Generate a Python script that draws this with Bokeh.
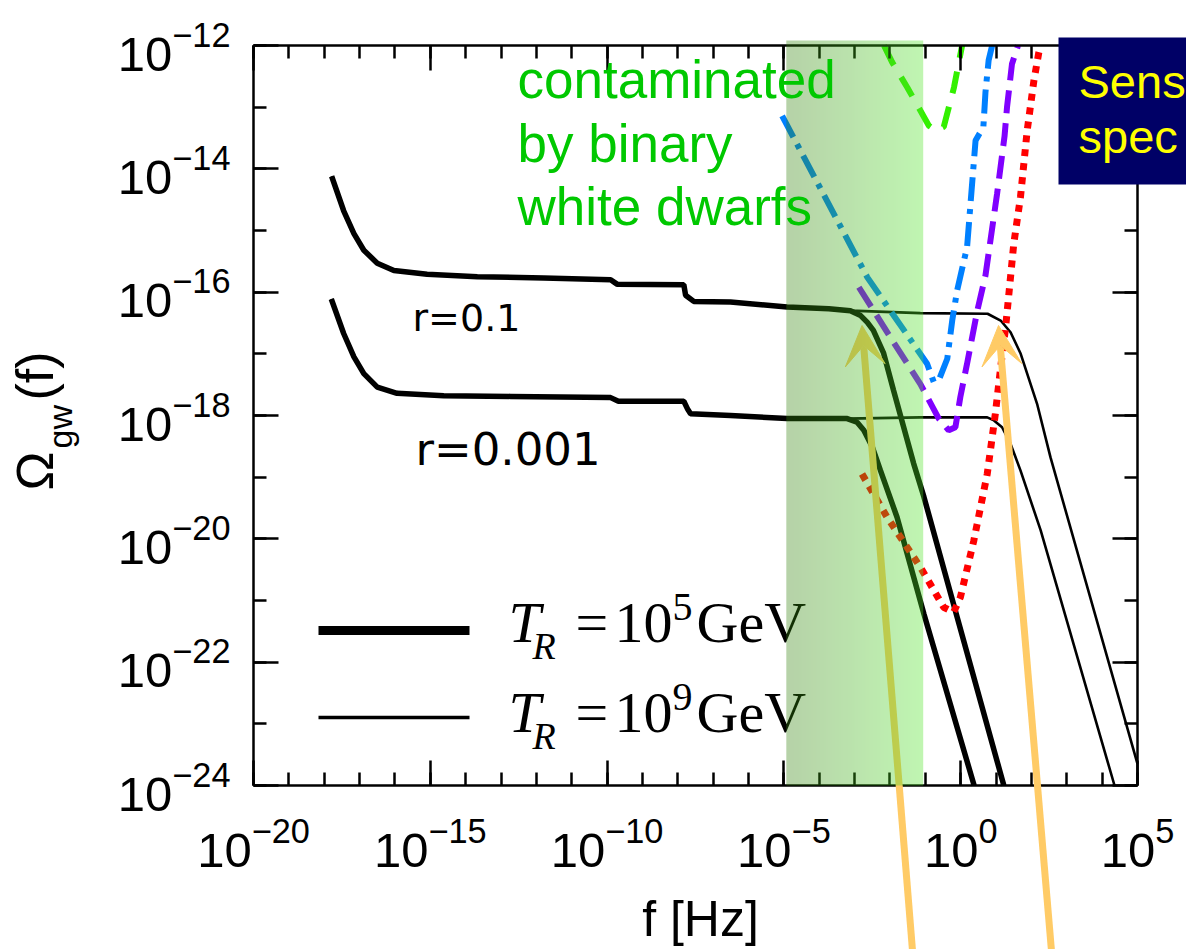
import numpy as np
from bokeh.plotting import figure
from bokeh.models import (Range1d, LogAxis, FixedTicker, Label, Arrow, VeeHead,
                          BoxAnnotation)
from bokeh.embed import file_html
from bokeh.resources import INLINE

# ---------------------------------------------------------------------------
# Gravitational-wave background spectra, log10(f / Hz) vs log10(Omega_gw)
# Low-frequency part is shared by both reheating temperatures.
# ---------------------------------------------------------------------------
common_r1_logf = [-17.79, -17.45, -17.16, -16.88, -16.50, -16.03, -15.09, -13.67,
                  -11.79, -9.90, -9.72, -7.83, -7.78, -7.55, -6.51, -4.91, -3.73, -3.12]
common_r1_logom = [-14.12, -14.68, -15.05, -15.32, -15.53, -15.65, -15.71, -15.75,
                   -15.77, -15.80, -15.87, -15.88, -16.05, -16.15, -16.16, -16.24, -16.27, -16.30]

common_r3_logf = [-17.80, -17.45, -17.16, -16.88, -16.50, -15.94, -14.62, -12.73,
                  -9.90, -9.68, -7.83, -7.72, -7.64, -6.51, -4.91, -3.21]
common_r3_logom = [-16.11, -16.67, -17.05, -17.32, -17.54, -17.64, -17.68, -17.69,
                   -17.71, -17.77, -17.77, -17.90, -17.97, -18.00, -18.05, -18.05]

# T_R = 1e5 GeV branch (thick)
tr5_r1_logf = [-2.83, -2.64, -2.47, -2.18, -1.90, -1.33, -1.04, -0.10, 1.22]
tr5_r1_logom = [-16.38, -16.49, -16.62, -16.99, -17.59, -18.78, -19.32, -21.27, -24.0]
tr5_r3_logf = [-2.93, -2.74, -2.50, -2.27, -1.80, -1.04, 0.38]
tr5_r3_logom = [-18.11, -18.24, -18.51, -18.89, -19.65, -21.22, -24.0]

# T_R = 1e9 GeV branch (thin)
tr9_r1_logf = [-1.14, 0.76, 1.13, 1.41, 1.69, 2.16, 2.54, 5.0]
tr9_r1_logom = [-16.34, -16.35, -16.46, -16.65, -16.99, -17.81, -18.68, -23.65]
tr9_r3_logf = [-1.14, 0.75, 0.94, 1.17, 1.41, 1.69, 2.26, 4.35]
tr9_r3_logom = [-18.03, -18.03, -18.08, -18.19, -18.46, -18.89, -19.86, -24.0]

# Detector sensitivity curves
green_logf = [-2.17, -1.94, -1.51, -0.90, -0.70, -0.48, -0.19, 0.04]
green_logom = [-12.0, -12.27, -12.68, -13.30, -13.38, -13.32, -12.68, -12.0]

blue_logf = [-5.05, -2.64, -0.95, -0.76, -0.60, -0.38, -0.24, -0.10, 0.18, 0.33,
             0.42, 0.53, 0.64, 0.67, 0.70, 0.79, 0.89]
blue_logom = [-13.14, -15.76, -17.16, -17.46, -17.40, -17.08, -16.46, -15.97, -15.27, -14.19,
              -13.54, -13.43, -13.33, -13.05, -12.76, -12.24, -12.0]

purple_logf = [-2.88, -1.99, -1.14, -0.62, -0.34, -0.15, -0.01, 0.18, 0.47, 0.70,
               1.03, 1.24, 1.31, 1.45, 1.62]
purple_logom = [-15.92, -16.73, -17.49, -18.05, -18.24, -18.19, -17.70, -17.16, -16.30, -15.73,
                -14.40, -13.47, -13.00, -12.30, -12.0]

red_logf = [-2.79, -2.08, -1.14, -0.48, -0.20, -0.01, 0.37, 0.75, 0.98, 1.13, 1.27,
            1.40, 1.50, 1.69, 1.88, 2.07, 2.21, 2.26]
red_logom = [-18.95, -19.65, -20.46, -21.11, -21.19, -20.95, -20.03, -18.95, -17.97, -17.22,
             -16.57, -15.81, -15.22, -14.46, -13.38, -12.57, -12.11, -12.0]

# White-dwarf confusion band, Hz
band_f = [1.17e-5, 8.7e-2]

# Arrows marking the reheating frequencies (tip), drawn up from below the axis
arrow_tip_logf = [-2.79, 1.07]
arrow_tail_logf = [-1.36, 2.57]
arrow_tip_logom = -16.54
arrow_tail_logom = -26.7

# Axis ticks
x_major = [1e-20, 1e-15, 1e-10, 1e-5, 1e0, 1e5]
x_minor = [10.0 ** k for k in range(-20, 6)]
y_major = [10.0 ** k for k in range(-24, -11, 2)]
y_minor = [10.0 ** k for k in range(-24, -11)]

# ---------------------------------------------------------------------------
W, H = 1186, 949
# plot box on the canvas (pixels) and the decades it spans
FL, FR, FT, FB = 253, 1137, 45, 785
XLO, XHI, YLO, YHI = -20, 5, -24, -12
# Label anchors sit this fraction of the font size above the drawn baseline
BASE_SHIFT = 0.355


def fx(px):
    """canvas pixel column -> data x"""
    return 10 ** (XLO + (px - FL) * (XHI - XLO) / (FR - FL))


def fy(py):
    """canvas pixel row -> data y"""
    return 10 ** (YHI - (py - FT) * (YHI - YLO) / (FB - FT))


def pw(a):
    return [10.0 ** v for v in a]


# the frame fills the whole canvas; the axes sit on the plot box edges
p = figure(width=W, height=H, x_axis_type="log", y_axis_type="log",
           x_range=Range1d(fx(0), fx(W)), y_range=Range1d(fy(H), fy(0)),
           output_backend="svg", toolbar_location=None, min_border=0)
p.outline_line_color = None
p.xgrid.visible = False
p.ygrid.visible = False
p.background_fill_color = "white"
p.border_fill_color = "white"

xt = FixedTicker(ticks=x_major, minor_ticks=x_minor)
yt = FixedTicker(ticks=y_major, minor_ticks=y_minor)
x_bounds = (10.0 ** XLO, 10.0 ** XHI)
y_bounds = (10.0 ** YLO, 10.0 ** YHI)

bottom_ax = p.below[0]
left_ax = p.left[0]
bottom_ax.ticker = xt
left_ax.ticker = yt
bottom_ax.fixed_location = 10.0 ** YLO
bottom_ax.bounds = x_bounds
left_ax.fixed_location = 10.0 ** XLO
left_ax.bounds = y_bounds

top_ax = LogAxis(ticker=xt, fixed_location=10.0 ** YHI, bounds=x_bounds,
                 major_label_text_color=None, major_label_text_font_size="8px")
right_ax = LogAxis(ticker=yt, fixed_location=10.0 ** XHI, bounds=y_bounds,
                   major_label_text_color=None, major_label_text_font_size="8px")
p.add_layout(top_ax, "above")
p.add_layout(right_ax, "right")

for ax in (bottom_ax, left_ax, top_ax, right_ax):
    ax.axis_line_width = 2.5
    ax.axis_line_color = "black"
    ax.major_tick_line_width = 2.5
    ax.minor_tick_line_width = 2.5
    ax.major_tick_line_color = "black"
    ax.minor_tick_line_color = "black"
    ax.major_tick_in = 25
    ax.major_tick_out = 0
    ax.minor_tick_in = 13
    ax.minor_tick_out = 0

for ax in (bottom_ax, left_ax):
    ax.major_label_text_font = "Liberation Sans"
    ax.major_label_text_font_size = "49px"
    ax.major_label_text_color = "black"
bottom_ax.major_label_standoff = 31
left_ax.major_label_standoff = 23

# --- spectra -----------------------------------------------------------------
p.line(pw(common_r1_logf + tr9_r1_logf), pw(common_r1_logom + tr9_r1_logom),
       line_color="black", line_width=2.6)
p.line(pw(common_r3_logf + tr9_r3_logf), pw(common_r3_logom + tr9_r3_logom),
       line_color="black", line_width=2.6)
p.line(pw(common_r1_logf + tr5_r1_logf), pw(common_r1_logom + tr5_r1_logom),
       line_color="black", line_width=5.5)
p.line(pw(common_r3_logf + tr5_r3_logf), pw(common_r3_logom + tr5_r3_logom),
       line_color="black", line_width=5.5)

# --- sensitivities -----------------------------------------------------------
p.line(pw(green_logf), pw(green_logom), line_color="#33f000", line_width=6,
       line_dash="22 14")
p.line(pw(blue_logf), pw(blue_logom), line_color="#0080ff", line_width=6,
       line_dash="24 8 5 8")
p.line(pw(purple_logf), pw(purple_logom), line_color="#8000ff", line_width=6,
       line_dash="23 10")
p.line(pw(red_logf), pw(red_logom), line_color="#ff0000", line_width=7,
       line_dash="7 7")

# --- legend keys -------------------------------------------------------------
p.segment(x0=[fx(318)], y0=[fy(630)], x1=[fx(469)], y1=[fy(630)],
          line_color="black", line_width=9)
p.segment(x0=[fx(318)], y0=[fy(717)], x1=[fx(469)], y1=[fy(717)],
          line_color="black", line_width=3.5)

# --- arrows ------------------------------------------------------------------
for tip, tail in zip(arrow_tip_logf, arrow_tail_logf):
    p.add_layout(Arrow(end=VeeHead(size=40, fill_color="#ffcb66", line_color="#ffcb66"),
                       x_start=10 ** tail, y_start=10 ** arrow_tail_logom,
                       x_end=10 ** tip, y_end=10 ** arrow_tip_logom,
                       line_color="#ffcb66", line_width=7))

# --- translucent band with a left-to-right shade -----------------------------
N = 140
t = np.linspace(0, 1, N)
c_left = np.array([52, 130, 13])
c_right = np.array([80, 230, 41])
img = np.zeros((1, N), dtype=np.uint32)
view = img.view(dtype=np.uint8).reshape((1, N, 4))
for i in range(N):
    c = c_left + (c_right - c_left) * t[i]
    view[0, i, 0] = int(c[0])
    view[0, i, 1] = int(c[1])
    view[0, i, 2] = int(c[2])
    view[0, i, 3] = 92
band_top = fy(40)
band = p.image_rgba(image=[img], x=band_f[0], y=10.0 ** YLO,
                    dw=band_f[1] - band_f[0], dh=band_top - 10.0 ** YLO)
band.level = "overlay"


# --- texts ---------------------------------------------------------------------
def lab(px, py, text, size, color="black", font="Liberation Sans", style="normal",
        align="left", angle=0.0, level="annotation"):
    """place a text so that its baseline starts at canvas pixel (px, py)"""
    if angle:
        px = px - BASE_SHIFT * size
    else:
        py = py - BASE_SHIFT * size
    lb = Label(x=fx(px), y=fy(py), text=text, text_font=font, text_font_size=f"{size}px",
               text_color=color, text_font_style=style, text_align=align,
               text_baseline="alphabetic", angle=angle, level=level)
    p.add_layout(lb)
    return lb


for i, line in enumerate(["contaminated", "by binary", "white dwarfs"]):
    lab(517, 98 + 63.5 * i, line, 53, color="#00c800", level="overlay")

lab(412, 331, "r=0.1", 38, font="DejaVu Sans")
lab(415, 465, "r=0.001", 45, font="DejaVu Sans")

# legend texts
for row, expo in ((643, "5"), (733, "9")):
    lab(508, row, "T", 58, font="Liberation Serif", style="italic")
    lab(532, row + 16, "R", 38, font="Liberation Serif", style="italic")
    lab(575, row, "=", 58, font="Liberation Serif")
    lab(614, row, "10", 58, font="Liberation Serif")
    lab(672, row - 22, expo, 40, font="Liberation Serif")
    lab(696, row, "GeV", 58, font="Liberation Serif")

# axis titles
lab(53, 490, "\u03a9", 52, angle=np.pi / 2)
lab(72, 448, "gw", 34, angle=np.pi / 2)
lab(53, 400, "(f)", 52, angle=np.pi / 2)
lab(700, 936, "f [Hz]", 50, align="center")

# sensitivity tag
p.add_layout(BoxAnnotation(left=fx(1058), right=fx(W + 10), top=fy(37), bottom=fy(184),
                           fill_color="#000066", fill_alpha=1.0, line_color=None))
lab(1078, 98, "Sens", 47, color="#ffff00")
lab(1078, 153, "spec", 47, color="#ffff00")

open("out.html", "w").write(file_html(p, INLINE))
